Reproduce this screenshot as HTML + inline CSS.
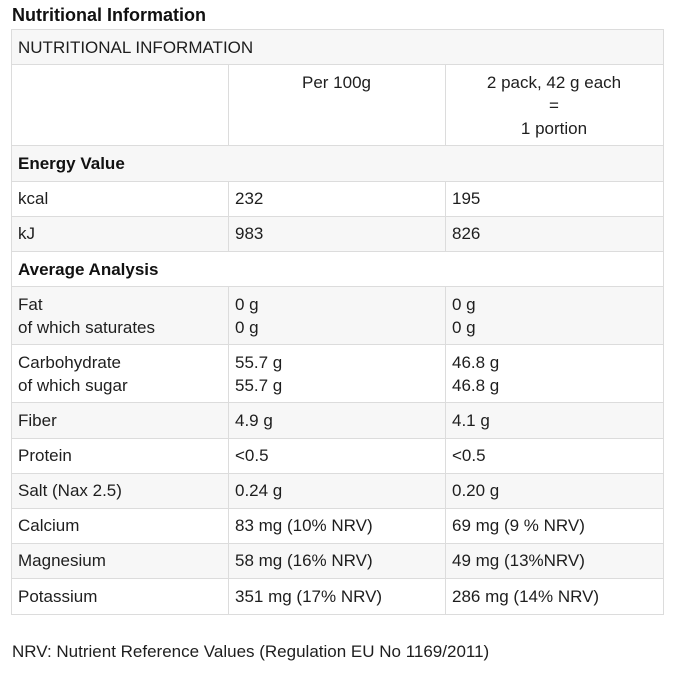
<!DOCTYPE html>
<html>
<head>
<meta charset="utf-8">
<style>
  html, body { margin:0; padding:0; background:#fff; }
  body { width:685px; height:676px; position:relative; overflow:hidden;
         font-family:"Liberation Sans", Arial, sans-serif; color:#1e1e1e; font-size:17px; }
  .title { position:absolute; left:12px; top:4px; font-size:18px; font-weight:bold; line-height:23px; color:#111; }
  .bg { position:absolute; left:11px; width:653px; background:#f7f7f7; }
  .h { position:absolute; left:11px; width:653px; height:1px; background:#dcdcdc; }
  .v { position:absolute; width:1px; background:#dcdcdc; }
  .t { position:absolute; line-height:23px; white-space:nowrap; }
  .b { font-weight:bold; color:#111; }
  .c { text-align:center; }
  .foot { position:absolute; left:12px; top:640px; line-height:23px; }
</style>
</head>
<body>
<div class="title">Nutritional Information</div>

<!-- gray row backgrounds -->
<div class="bg" style="top:29px;height:35px"></div>
<div class="bg" style="top:145px;height:36px"></div>
<div class="bg" style="top:216px;height:35px"></div>
<div class="bg" style="top:286px;height:58px"></div>
<div class="bg" style="top:402px;height:36px"></div>
<div class="bg" style="top:473px;height:35px"></div>
<div class="bg" style="top:543px;height:35px"></div>

<!-- horizontal lines -->
<div class="h" style="top:29px"></div>
<div class="h" style="top:64px"></div>
<div class="h" style="top:145px"></div>
<div class="h" style="top:181px"></div>
<div class="h" style="top:216px"></div>
<div class="h" style="top:251px"></div>
<div class="h" style="top:286px"></div>
<div class="h" style="top:344px"></div>
<div class="h" style="top:402px"></div>
<div class="h" style="top:438px"></div>
<div class="h" style="top:473px"></div>
<div class="h" style="top:508px"></div>
<div class="h" style="top:543px"></div>
<div class="h" style="top:578px"></div>
<div class="h" style="top:614px"></div>

<!-- vertical lines -->
<div class="v" style="left:11px;top:29px;height:586px"></div>
<div class="v" style="left:663px;top:29px;height:586px"></div>
<div class="v" style="left:228px;top:64px;height:81px"></div>
<div class="v" style="left:445px;top:64px;height:81px"></div>
<div class="v" style="left:228px;top:181px;height:70px"></div>
<div class="v" style="left:445px;top:181px;height:70px"></div>
<div class="v" style="left:228px;top:286px;height:328px"></div>
<div class="v" style="left:445px;top:286px;height:328px"></div>

<!-- text -->
<div class="t" style="left:18px;top:36px">NUTRITIONAL INFORMATION</div>
<div class="t c" style="left:228px;width:217px;top:71px">Per 100g</div>
<div class="t c" style="left:445px;width:218px;top:71px">2 pack, 42 g each<br>=<br>1 portion</div>

<div class="t b" style="left:18px;top:152px">Energy Value</div>

<div class="t" style="left:18px;top:187px">kcal</div>
<div class="t" style="left:235px;top:187px">232</div>
<div class="t" style="left:452px;top:187px">195</div>

<div class="t" style="left:18px;top:222px">kJ</div>
<div class="t" style="left:235px;top:222px">983</div>
<div class="t" style="left:452px;top:222px">826</div>

<div class="t b" style="left:18px;top:258px">Average Analysis</div>

<div class="t" style="left:18px;top:293px">Fat<br>of which saturates</div>
<div class="t" style="left:235px;top:293px">0 g<br>0 g</div>
<div class="t" style="left:452px;top:293px">0 g<br>0 g</div>

<div class="t" style="left:18px;top:351px">Carbohydrate<br>of which sugar</div>
<div class="t" style="left:235px;top:351px">55.7 g<br>55.7 g</div>
<div class="t" style="left:452px;top:351px">46.8 g<br>46.8 g</div>

<div class="t" style="left:18px;top:409px">Fiber</div>
<div class="t" style="left:235px;top:409px">4.9 g</div>
<div class="t" style="left:452px;top:409px">4.1 g</div>

<div class="t" style="left:18px;top:444px">Protein</div>
<div class="t" style="left:235px;top:444px">&lt;0.5</div>
<div class="t" style="left:452px;top:444px">&lt;0.5</div>

<div class="t" style="left:18px;top:479px">Salt (Nax 2.5)</div>
<div class="t" style="left:235px;top:479px">0.24 g</div>
<div class="t" style="left:452px;top:479px">0.20 g</div>

<div class="t" style="left:18px;top:514px">Calcium</div>
<div class="t" style="left:235px;top:514px">83 mg (10% NRV)</div>
<div class="t" style="left:452px;top:514px">69 mg (9 % NRV)</div>

<div class="t" style="left:18px;top:549px">Magnesium</div>
<div class="t" style="left:235px;top:549px">58 mg (16% NRV)</div>
<div class="t" style="left:452px;top:549px">49 mg (13%NRV)</div>

<div class="t" style="left:18px;top:585px">Potassium</div>
<div class="t" style="left:235px;top:585px">351 mg (17% NRV)</div>
<div class="t" style="left:452px;top:585px">286 mg (14% NRV)</div>

<div class="foot">NRV: Nutrient Reference Values (Regulation EU No 1169/2011)</div>
</body>
</html>
